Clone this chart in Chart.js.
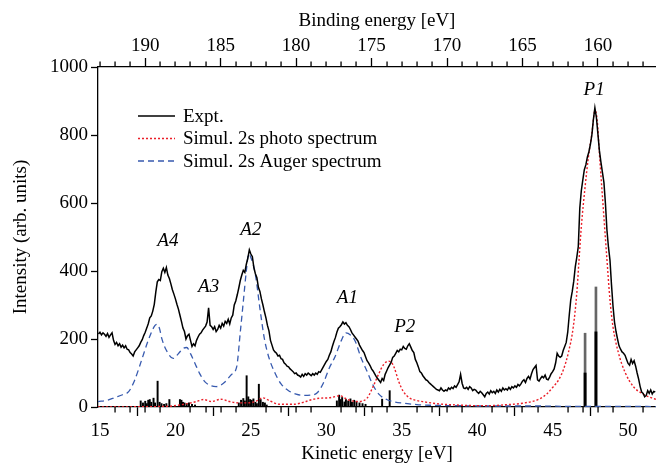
<!DOCTYPE html>
<html><head><meta charset="utf-8">
<script src="https://cdn.jsdelivr.net/npm/chart.js@4.4.1/dist/chart.umd.min.js"></script>
<style>html,body{margin:0;padding:0;background:#fff}#wrap{width:656px;height:466px}</style>
</head><body><div id="wrap"><canvas id="c" width="656" height="466"></canvas></div>
<script>
// ---------- data ----------
const exptKE = [
14.9,15.0,15.1,15.2,15.3,15.4,15.5,15.6,15.7,15.8,
15.9,16.0,16.1,16.2,16.3,16.4,16.5,16.6,16.7,16.8,
16.9,17.0,17.1,17.2,17.3,17.4,17.5,17.6,17.7,17.8,
17.9,18.0,18.1,18.2,18.3,18.4,18.5,18.6,18.7,18.8,
18.9,19.0,19.1,19.2,19.3,19.4,19.5,19.6,19.7,19.8,
19.9,20.0,20.1,20.2,20.3,20.4,20.5,20.6,20.7,20.8,
20.9,21.0,21.1,21.2,21.3,21.4,21.5,21.6,21.7,21.8,
21.9,22.0,22.1,22.2,22.3,22.4,22.5,22.6,22.7,22.8,
22.9,23.0,23.1,23.2,23.3,23.4,23.5,23.6,23.7,23.8,
23.9,24.0,24.1,24.2,24.3,24.4,24.5,24.6,24.7,24.8,
24.9,25.0,25.1,25.2,25.3,25.4,25.5,25.6,25.7,25.8,
25.9,26.0,26.1,26.2,26.3,26.4,26.5,26.6,26.7,26.8,
26.9,27.0,27.1,27.2,27.3,27.4,27.5,27.6,27.7,27.8,
27.9,28.0,28.1,28.2,28.3,28.4,28.5,28.6,28.7,28.8,
28.9,29.0,29.1,29.2,29.3,29.4,29.5,29.6,29.7,29.8,
29.9,30.0,30.1,30.2,30.3,30.4,30.5,30.6,30.7,30.8,
30.9,31.0,31.1,31.2,31.3,31.4,31.5,31.6,31.7,31.8,
31.9,32.0,32.1,32.2,32.3,32.4,32.5,32.6,32.7,32.8,
32.9,33.0,33.1,33.2,33.3,33.4,33.5,33.6,33.7,33.8,
33.9,34.0,34.1,34.2,34.3,34.4,34.5,34.6,34.7,34.8,
34.9,35.0,35.1,35.2,35.3,35.4,35.5,35.6,35.7,35.8,
35.9,36.0,36.1,36.2,36.3,36.4,36.5,36.6,36.7,36.8,
36.9,37.0,37.1,37.2,37.3,37.4,37.5,37.6,37.7,37.8,
37.9,38.0,38.1,38.2,38.3,38.4,38.5,38.6,38.7,38.8,
38.9,39.0,39.1,39.2,39.3,39.4,39.5,39.6,39.7,39.8,
39.9,40.0,40.1,40.2,40.3,40.4,40.5,40.6,40.7,40.8,
40.9,41.0,41.1,41.2,41.3,41.4,41.5,41.6,41.7,41.8,
41.9,42.0,42.1,42.2,42.3,42.4,42.5,42.6,42.7,42.8,
42.9,43.0,43.1,43.2,43.3,43.4,43.5,43.6,43.7,43.8,
43.9,44.0,44.1,44.2,44.3,44.4,44.5,44.6,44.7,44.8,
44.9,45.0,45.1,45.2,45.3,45.4,45.5,45.6,45.7,45.8,
45.9,46.0,46.1,46.2,46.3,46.4,46.5,46.6,46.7,46.8,
46.9,47.0,47.1,47.2,47.3,47.4,47.5,47.6,47.7,47.8,
47.9,48.0,48.1,48.2,48.3,48.4,48.5,48.6,48.7,48.8,
48.9,49.0,49.1,49.2,49.3,49.4,49.5,49.6,49.7,49.8,
49.9,50.0,50.1,50.2,50.3,50.4,50.5,50.6,50.7,50.8,
50.9,51.0,51.1,51.2,51.3,51.4,51.5,51.6,51.7,51.8
];
const exptI = [
215,220,212,218,214,208,216,205,212,218,
196,184,190,180,186,176,182,174,180,170,
168,160,156,150,162,168,174,180,190,198,
210,220,232,245,262,268,282,302,338,368,
375,372,398,408,396,410,388,378,362,345,
332,318,302,288,270,252,232,222,200,210,
214,196,178,186,180,196,206,214,218,226,
232,238,250,292,240,236,228,236,222,228,
240,232,246,238,252,246,258,244,262,270,
300,312,330,350,372,388,402,396,420,438,
462,450,442,410,392,380,352,340,318,300,
280,262,240,224,196,182,168,162,158,150,
152,142,140,130,126,120,118,112,108,104,
98,100,94,92,88,96,90,98,94,100,
96,92,98,94,100,96,104,102,110,118,
126,134,140,152,162,178,192,204,220,232,
236,242,250,244,248,240,236,228,218,212,
206,200,194,182,174,166,160,148,136,130,
122,112,106,98,90,84,78,72,84,78,
96,106,116,124,132,146,150,158,166,162,
170,168,178,172,170,180,186,176,166,160,
140,130,118,104,100,92,86,80,78,72,
68,64,60,56,52,50,48,56,50,46,
50,48,56,52,58,54,62,58,66,74,
96,70,56,54,58,52,60,56,48,52,
50,44,40,46,42,36,30,40,44,38,
48,42,46,40,50,44,52,46,56,50,
54,50,58,52,60,56,62,58,66,62,
68,76,80,72,84,90,82,98,110,116,
122,80,76,84,90,86,94,82,80,88,
98,104,112,130,158,150,146,150,166,178,
190,220,270,315,340,370,412,440,472,585,
636,668,698,712,735,750,772,800,845,880,
852,803,754,720,690,660,598,520,470,432,
360,297,250,222,200,180,170,162,158,152,
140,128,123,140,128,136,120,100,82,60,
44,40,30,34,48,40,50,38,46,44
];
const photoKE = [14.87,16,18,19.5,20.3,20.8,21.4,21.85,22.4,23.0,23.6,24.2,24.8,25.3,25.8,26.3,26.9,27.8,28.5,28.9,29.6,30.2,30.9,31.4,32.1,32.7,33.1,33.5,33.8,34.1,34.3,34.5,34.8,35.1,35.5,36.0,36.5,37.5,38.6,40.0,40.8,42.0,43.0,44.1,44.6,45.05,45.4,45.7,46.05,46.37,46.6,46.75,46.9,47.15,47.37,47.6,47.8,47.95,48.1,48.35,48.6,48.8,49.0,49.35,49.8,50.35,51.0,51.85];
const photoI  = [0,0,1,2,6,10,16,22,16,23,16,12,12,16,27,17,8,8,14,20,26,27,33,22,16,26,60,100,125,135,132,116,75,46,27,19,15,9,6,4,4,7,11,23,38,60,80,108,161,236,335,433,530,647,735,804,871,845,745,588,433,315,236,161,102,60,38,22];
const augerKE = [14.87,15.5,16.0,16.5,16.9,17.3,17.76,18.2,18.65,18.8,18.95,19.1,19.4,19.86,20.2,20.5,20.75,21.0,21.3,21.6,21.96,22.4,22.7,23.0,23.3,23.7,24.06,24.3,24.5,24.7,24.85,25.0,25.3,25.6,25.9,26.2,26.6,27.0,27.5,28.0,28.5,29.0,29.4,29.8,30.2,30.57,31.0,31.3,31.6,31.9,32.3,32.7,33.1,33.5,34.0,34.5,35.2,36.0,37.0,38.5,40.0,42.0,44.0,46.0,48.0,50.0,51.85];
const augerI  = [16,20,28,36,45,79,138,196,240,243,230,201,167,143,157,172,175,157,128,99,74,62,60,64,74,95,118,220,310,400,450,440,390,290,200,145,100,68,48,38,34,35,42,70,115,147,196,218,212,195,145,105,64,37,22,15,11,7,5,4,3,3,3,2,2,2,1];
const stickKE = [17.7,17.85,18.0,18.1,18.2,18.3,18.4,18.55,18.65,18.82,18.95,19.08,19.25,19.4,19.6,20.3,20.4,20.5,20.6,20.75,20.9,21.1,21.3,24.2,24.35,24.5,24.6,24.72,24.83,24.95,25.05,25.17,25.3,25.4,25.53,25.65,25.8,25.93,26.05,30.7,30.85,30.95,31.05,31.2,31.3,31.45,31.6,31.7,31.85,32.0,32.2,32.4,32.6,33.7,34.2];
const stickI  = [18,12,17,10,20,22,14,26,12,76,14,10,8,10,22,22,20,14,12,10,12,8,6,12,20,25,18,92,30,22,20,24,14,10,67,22,14,12,6,18,35,22,28,15,22,18,24,14,20,16,12,10,8,23,48];
const p1StickKE = [47.15,47.87];
const p1StickGreyI = [217,353];
const p1StickBlackI = [100,221];
const keTicks = [15,20,25,30,35,40,45,50];
const keMinorTicks = [16,17,18,19,21,22,23,24,26,27,28,29,31,32,33,34,36,37,38,39,41,42,43,44,46,47,48,49,51];
const beTicks = [190,185,180,175,170,165,160];
const beMinorTicks = [193,192,191,189,188,187,186,184,183,182,181,179,178,177,176,174,173,172,171,169,168,167,166,164,163,162,161,159,158,157];
const yTicks  = [0,200,400,600,800,1000];
const peakNames = ['A4','A3','A2','A1','P2','P1'];
const peakKE    = [19.5,22.2,25.0,31.4,35.2,47.75];
const peakI     = [488,352,520,320,235,932];
const legendNames = ['Expt.','Simul. 2s photo spectrum','Simul. 2s Auger spectrum'];
const BE_OFFSET = 208;      // binding energy = 208 - kinetic energy
const KE_MIN = 14.87, KE_MAX = 51.85;

// ---------- chart ----------
const FONT = "'Liberation Serif','Times New Roman',serif";
Chart.defaults.font.family = FONT;
Chart.defaults.font.size = 19;
Chart.defaults.color = '#000';
const pts = (xs, ys) => xs.map((x, i) => ({x: x, y: ys[i]}));
const RED = 'rgb(235,30,40)', BLUE = 'rgb(55,90,175)';

const minorTicks = {
  id: 'minorTicks',
  afterDraw(chart) {
    const ctx = chart.ctx, sx = chart.scales.x, st = chart.scales.x2;
    const ca = chart.chartArea;
    ctx.save();
    ctx.fillStyle = '#000';
    keMinorTicks.forEach(v => {
      const p = sx.getPixelForValue(v);
      ctx.fillRect(Math.round(p) - 0.6, ca.bottom, 1.3, 5.5);
    });
    beMinorTicks.forEach(b => {
      const p = st.getPixelForValue(b);
      ctx.fillRect(Math.round(p) - 0.6, ca.top - 5.5, 1.3, 5.5);
    });
    ctx.restore();
  }
};

const annotations = {
  id: 'annotations',
  afterDatasetsDraw(chart) {
    const ctx = chart.ctx, sx = chart.scales.x, sy = chart.scales.y;
    ctx.save();
    ctx.font = 'italic 19px ' + FONT;
    ctx.fillStyle = '#000'; ctx.textAlign = 'center'; ctx.textBaseline = 'middle';
    peakNames.forEach((n, i) => ctx.fillText(n, sx.getPixelForValue(peakKE[i]), sy.getPixelForValue(peakI[i])));
    const ds = chart.data.datasets;
    const lx0 = 138, lx1 = 175, tx = 183, rows = [116, 138.5, 161];
    ctx.font = '19px ' + FONT; ctx.textAlign = 'left';
    legendNames.forEach((n, i) => {
      const d = ds[i];
      ctx.save();
      ctx.strokeStyle = d.borderColor; ctx.lineWidth = Math.min(d.borderWidth, 1.3);
      ctx.setLineDash(d.borderDash || []);
      ctx.beginPath(); ctx.moveTo(lx0, rows[i]); ctx.lineTo(lx1, rows[i]); ctx.stroke();
      ctx.restore();
      ctx.fillText(n, tx, rows[i] + 1);
    });
    ctx.restore();
  }
};

const gridCommon = (len) => ({drawOnChartArea: false, drawTicks: true, tickLength: len, tickColor: '#000', tickWidth: 1.3});
const borderCommon = {display: true, color: '#000', width: 1.3};
const plainLabel = v => String(v);

new Chart(document.getElementById('c'), {
  type: 'scatter',
  data: {
    datasets: [
      {label: legendNames[0], type: 'line', data: pts(exptKE, exptI), borderColor: '#000', borderWidth: 1.5, pointRadius: 0, tension: 0, order: 1},
      {label: legendNames[1], type: 'line', data: pts(photoKE, photoI), borderColor: RED, borderWidth: 1.4, borderDash: [2, 2], pointRadius: 0, cubicInterpolationMode: 'monotone', order: 2},
      {label: legendNames[2], type: 'line', data: pts(augerKE, augerI), borderColor: BLUE, borderWidth: 1.3, borderDash: [6, 4], pointRadius: 0, cubicInterpolationMode: 'monotone', order: 3},
      {label: 'sticks', type: 'bar', data: pts(stickKE, stickI), backgroundColor: '#000', borderWidth: 0, barThickness: 1.3, grouped: false, order: 5},
      {label: 'p1grey', type: 'bar', data: pts(p1StickKE, p1StickGreyI), backgroundColor: '#666', borderWidth: 0, barThickness: 2, grouped: false, order: 4},
      {label: 'p1black', type: 'bar', data: pts(p1StickKE, p1StickBlackI), backgroundColor: '#000', borderWidth: 0, barThickness: 2.2, grouped: false, order: 3.5}
    ]
  },
  options: {
    responsive: false, animation: false,
    layout: {padding: 0},
    plugins: {legend: {display: false}, tooltip: {enabled: false}},
    scales: {
      x: {
        type: 'linear', position: 'bottom', min: KE_MIN, max: KE_MAX, offset: false,
        afterBuildTicks: s => { s.ticks = keTicks.map(v => ({value: v})); },
        afterFit: s => { s.height = 59; },
        grid: gridCommon(9), border: borderCommon,
        ticks: {padding: 4, maxRotation: 0, autoSkip: false, font: {size: 19}, callback: plainLabel},
        title: {display: true, text: 'Kinetic energy [eV]', font: {size: 19}, padding: {top: 0, bottom: 1}}
      },
      x2: {
        type: 'linear', position: 'top', reverse: true,
        min: BE_OFFSET - KE_MAX, max: BE_OFFSET - KE_MIN, offset: false,
        afterBuildTicks: s => { s.ticks = beTicks.map(v => ({value: v})); },
        afterFit: s => { s.height = 67; },
        grid: gridCommon(9), border: borderCommon,
        ticks: {padding: 1, maxRotation: 0, autoSkip: false, font: {size: 19}, callback: plainLabel},
        title: {display: true, text: 'Binding energy [eV]', font: {size: 19}, padding: {top: 10, bottom: 0}}
      },
      y: {
        type: 'linear', position: 'left', min: 0, max: 1000,
        afterBuildTicks: s => { s.ticks = yTicks.map(v => ({value: v})); },
        afterFit: s => { s.width = 98; },
        grid: gridCommon(7), border: borderCommon,
        ticks: {padding: 3, font: {size: 19}, callback: plainLabel},
        title: {display: true, text: 'Intensity (arb. units)', font: {size: 19}, padding: {top: 10, bottom: 0}}
      }
    }
  },
  plugins: [annotations, minorTicks]
});
</script>
</body></html>
